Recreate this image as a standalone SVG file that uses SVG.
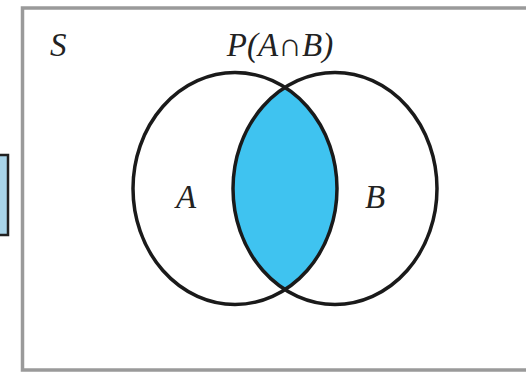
<svg xmlns="http://www.w3.org/2000/svg" width="526" height="372" viewBox="0 0 526 372">
<style>
.lbl{font-family:"Liberation Serif","DejaVu Serif",serif;font-style:italic;font-size:33px;fill:#222}
.set{fill:none;stroke:#1a1a1a;stroke-width:3.5}
</style>
<defs>
<clipPath id="clipA"><ellipse cx="235" cy="188.5" rx="102" ry="116"/></clipPath>
</defs>
<rect width="526" height="372" fill="#fff"/>
<g id="frame">
<rect x="22.5" y="8" width="530" height="362" fill="none" stroke="#9a9a9a" stroke-width="3.5"/>
</g>
<g id="side-box">
<rect x="-5" y="155" width="13" height="80" fill="#a9d5ea" stroke="#222" stroke-width="2.5"/>
</g>
<g id="intersection">
<ellipse cx="335" cy="188.5" rx="102" ry="116" fill="#3fc3f0" clip-path="url(#clipA)"/>
</g>
<g id="setA">
<ellipse class="set" cx="235" cy="188.5" rx="102" ry="116"/>
<text class="lbl" x="186" y="208" text-anchor="middle">A</text>
</g>
<g id="setB">
<ellipse class="set" cx="335" cy="188.5" rx="102" ry="116"/>
<text class="lbl" x="375" y="208" text-anchor="middle">B</text>
</g>
<g id="labels">
<text class="lbl" x="50" y="56">S</text>
<text class="lbl" x="280" y="56" text-anchor="middle">P(A∩B)</text>
</g>
</svg>
